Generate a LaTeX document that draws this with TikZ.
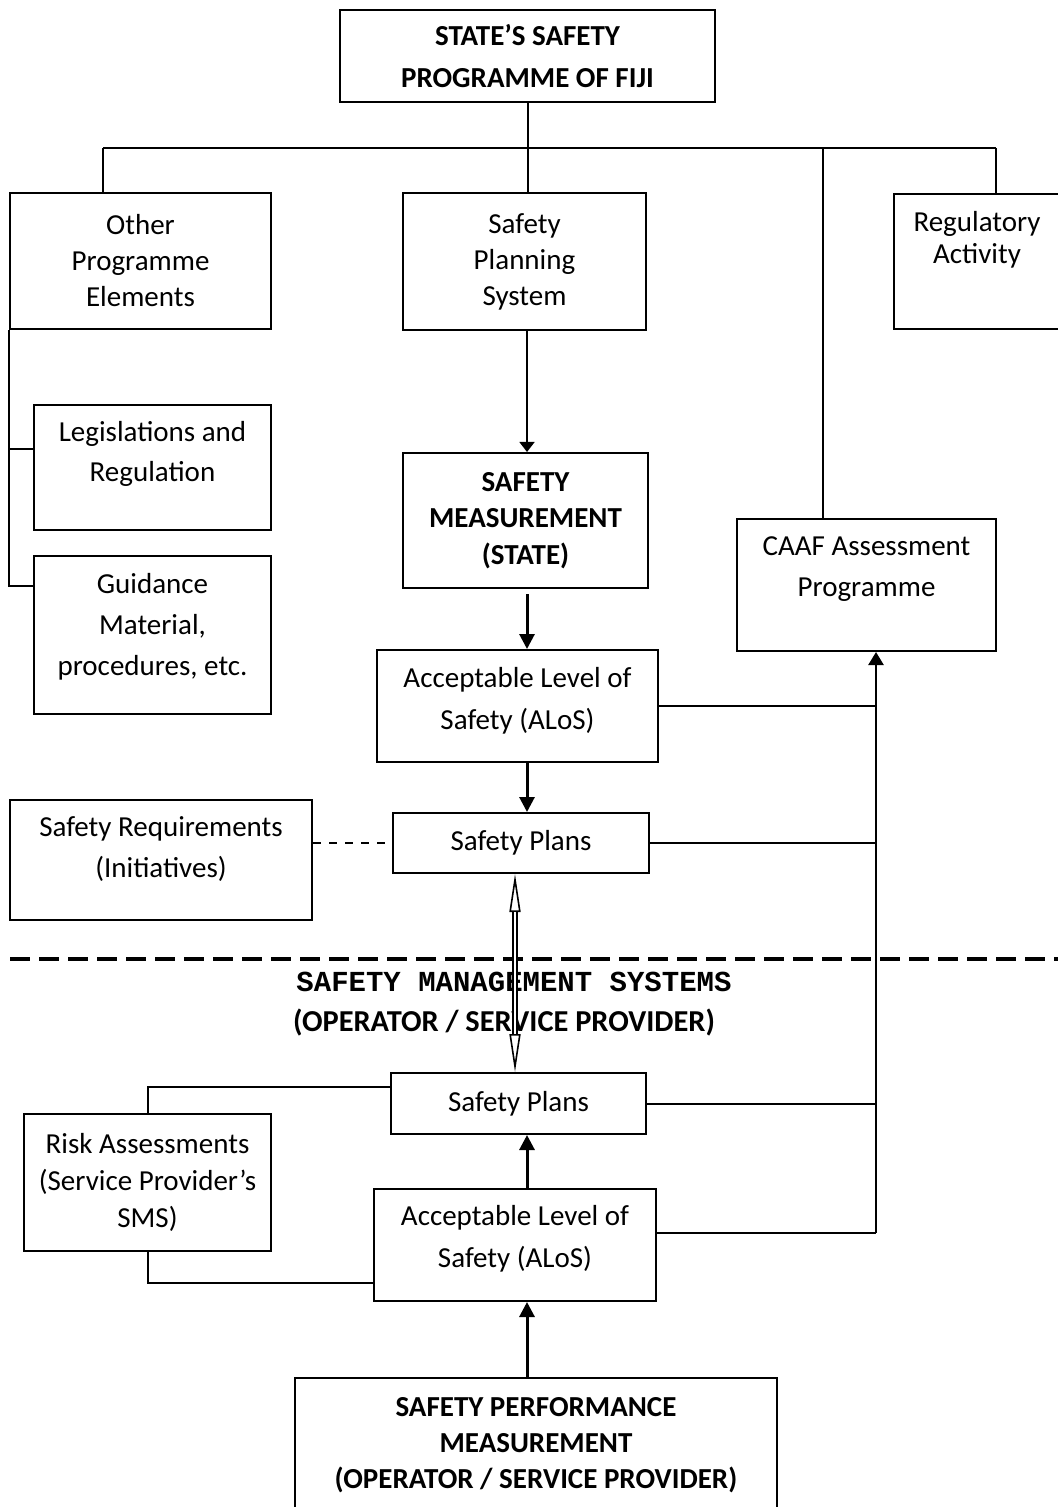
\documentclass[tikz,border=0pt]{standalone}
\usepackage{fontspec}
\setmainfont{Carlito}
\setmonofont{Liberation Mono}
\usetikzlibrary{arrows.meta}

\tikzset{
  box/.style={draw, line width=1pt, align=center, inner sep=0pt},
  txt/.style={font=\fontsize{14.5}{#1}\selectfont},
  txt/.default=18pt,
  boldtxt/.style={font=\fontsize{14.5}{#1}\selectfont\bfseries},
  boldtxt/.default=18pt,
  link/.style={line width=1pt},
  thinarrow/.style={line width=0.8pt, -{Triangle[length=5pt,width=7.5pt]}},
  fatarrow/.style={line width=1.5pt, -{Triangle[length=7.5pt,width=7.5pt]}},
  riserarrow/.style={line width=1.2pt, -{Triangle[length=6.5pt,width=7.5pt]}},
  divider/.style={line width=2pt, dash pattern=on 10pt off 4.5pt},
}

\begin{document}
\begin{tikzpicture}[x=0.5pt,y=-0.5pt]
\useasboundingbox (0,0) rectangle (1057,1507);

% draw the boxes of the state level
\node[box, line width=1.3pt, boldtxt=21pt, minimum width=187.5pt, minimum height=46pt] (state) at (527.5,56) {STATE’S SAFETY\\PROGRAMME OF FIJI};
\node[box, txt, minimum width=130.5pt, minimum height=68pt] (other) at (140.5,261) {Other\\Programme\\Elements};
\node[box, txt, minimum width=121.5pt, minimum height=68.5pt] (planning) at (524.5,261.5) {Safety\\Planning\\System};
\node[box, txt=16pt, text depth=24pt, minimum width=83pt, minimum height=67.5pt] (regulatory) at (977,261.5) {Regulatory\\Activity};
\node[box, txt=20pt, text depth=16.5pt, minimum width=118.5pt, minimum height=62.5pt] (legis) at (152.5,467.5) {Legislations and\\Regulation};
\node[box, txt=20.5pt, text depth=11pt, minimum width=118.5pt, minimum height=79pt] (guidance) at (152.5,635) {Guidance\\Material,\\procedures, etc.};
\node[box, boldtxt=18.25pt, minimum width=122.5pt, minimum height=67.5pt] (measurement) at (525.5,520.5) {SAFETY\\MEASUREMENT\\(STATE)};
\node[box, txt=20.5pt, text depth=18.5pt, minimum width=129.5pt, minimum height=66pt] (caaf) at (866.5,585) {CAAF Assessment\\Programme};
\node[box, txt=21pt, text depth=8pt, minimum width=140.5pt, minimum height=56pt] (alos1) at (517.5,706) {Acceptable Level of\\Safety (ALoS)};
\node[box, txt=20.5pt, text depth=12.5pt, minimum width=151pt, minimum height=60pt] (req) at (161,860) {Safety Requirements\\(Initiatives)};
\node[box, txt, minimum width=128pt, minimum height=30pt] (plans1) at (521,843) {Safety Plans};

% draw the boxes of the operator level
\node[box, txt, minimum width=127.5pt, minimum height=30.5pt] (plans2) at (518.5,1103.5) {Safety Plans};
\node[box, txt=18.5pt, minimum width=123.5pt, minimum height=68.5pt] (risk) at (147.5,1182.5) {Risk Assessments\\(Service Provider’s\\SMS)};
\node[box, txt=21pt, text depth=9pt, minimum width=141pt, minimum height=56pt] (alos2) at (515,1245) {Acceptable Level of\\Safety (ALoS)};
\node[box, boldtxt, minimum width=241pt, minimum height=67pt] (perf) at (536,1445) {SAFETY PERFORMANCE\\MEASUREMENT\\(OPERATOR / SERVICE PROVIDER)};

% draw the tree below the programme
\coordinate (busL) at (103,148);
\coordinate (busM) at (823,148);
\coordinate (busR) at (996,148);
\draw[link] (busL) -- (busR);
\draw[link] (state.south) -- (state.south |- planning.north);
\foreach \b/\n in {busL/other, busM/caaf, busR/regulatory}
\draw[link] (\b) -- (\b |- \n.north);

% draw the bracket of the other elements
\coordinate (legisin) at ([yshift=-22.5pt]legis.north west);
\coordinate (guidein) at ([yshift=-15.5pt]guidance.north west);
\draw[link] (other.south west) |- (guidein);
\draw[link] (legisin) -- (legisin -| other.south west);

% draw the chain down the middle
\coordinate (spine) at (527,0);
\draw[thinarrow] (spine |- planning.south) -- (spine |- measurement.north);
\draw[fatarrow, shorten <=2.5pt] (spine |- measurement.south) -- (spine |- alos1.north);
\draw[fatarrow] (spine |- alos1.south) -- (spine |- plans1.north);
\draw[link, dash pattern=on 4pt off 4pt] (req.east |- plans1.west) -- (plans1.west);

% draw the lines to the assessment programme
\coordinate (riser) at (876,0);
\coordinate (alos2out) at ([yshift=6pt]alos2.east);
\foreach \n in {alos1, plans1, plans2}
\draw[link] (\n.east) -- (\n.east -| riser);
\draw[link] (alos2out) -- (alos2out -| riser);
\draw[riserarrow] (riser |- alos2out) -- (riser |- caaf.south);

% draw the divider and its titles
\coordinate (divL) at (10,959);
\coordinate (divR) at (1062,959);
\draw[divider] (divL) -- (divR);
\node[txt, inner sep=0pt] (smstitle) at (514,982) {\ttfamily\bfseries SAFETY MANAGEMENT SYSTEMS};
\node[inner sep=0pt, font=\fontsize{15.2}{18}\selectfont\bfseries] (smsparty) at (504,1023) {(OPERATOR / SERVICE PROVIDER)};

% draw the double arrow between the plans
\coordinate (dbltop) at ([xshift=-3pt]plans1.south);
\draw[line width=0.8pt, {Triangle[open,length=19pt,width=5.5pt]}-{Triangle[open,length=19pt,width=5.5pt]}] (dbltop) -- (dbltop |- plans2.north);
\draw[line width=0.8pt, double, double distance=1.4pt, shorten <=19pt, shorten >=19pt] (dbltop) -- (dbltop |- plans2.north);

% draw the lower chain
\coordinate (plans2in) at ([yshift=8.25pt]plans2.west);
\coordinate (alos2in) at ([yshift=-19pt]alos2.west);
\draw[link] (risk.north) |- (plans2in);
\draw[link] (risk.south) |- (alos2in);
\draw[fatarrow] (spine |- alos2.north) -- (spine |- plans2.south);
\draw[fatarrow] (spine |- perf.north) -- (spine |- alos2.south);
\end{tikzpicture}
\end{document}
